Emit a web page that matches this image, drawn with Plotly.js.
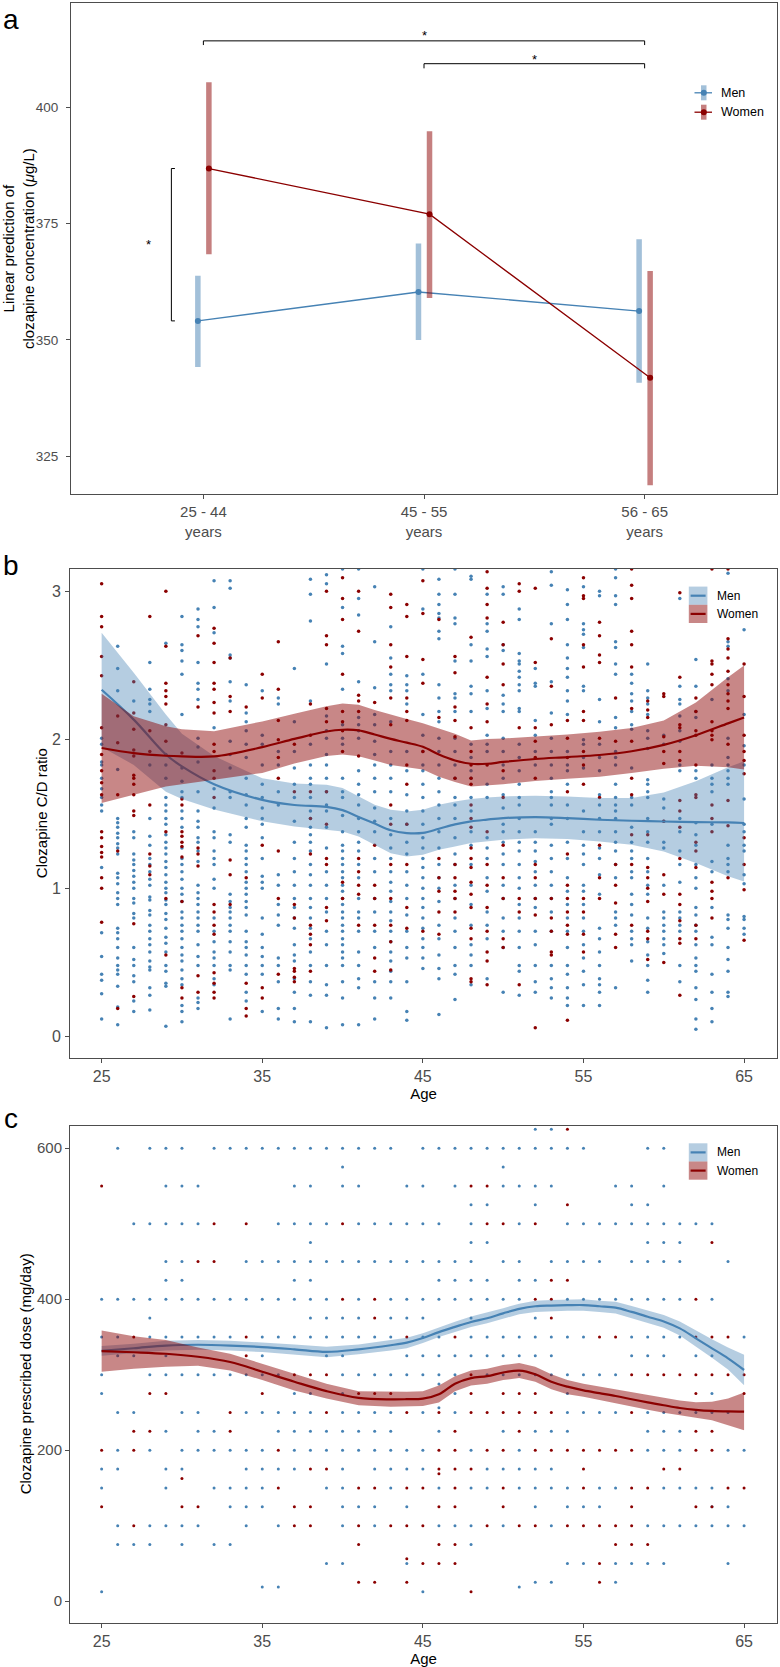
<!DOCTYPE html>
<html>
<head>
<meta charset="utf-8">
<script src="https://cdn.plot.ly/plotly-3.0.1.min.js"></script>
<style>html,body{margin:0;padding:0;background:#fff}#chart{width:780px;height:1667px}</style>
</head>
<body>
<div id="chart"></div>
<script>
// ---------------- Panel a : linear prediction ----------------
const ageGroups = ['25 - 44', '45 - 55', '56 - 65'];
const menPred = [354.1, 360.3, 356.2];
const menLo = [344.2, 350.0, 340.8];
const menHi = [363.8, 370.7, 371.6];
const womenPred = [386.8, 377.0, 341.9];
const womenLo = [368.4, 359.0, 318.8];
const womenHi = [405.3, 394.8, 364.8];

// ---------------- Panel b : C/D ratio ----------------
const cdAges = [25,26,27,28,29,30,31,32,33,34,35,36,37,38,39,40,41,42,43,44,45,46,47,48,49,50,51,52,53,54,55,56,57,58,59,60,61,62,63,64,65];
const cdMen = [
[2.01,1.97,1.85,1.83,1.74,1.67,1.61,1.56,1.52,1.14,0.70,0.54,0.42,0.38,0.29,0.12],
[2.63,2.48,2.33,1.80,1.47,1.44,1.41,1.37,1.34,1.30,1.27,1.23,1.10,1.07,1.03,0.97,0.93,0.89,0.73,0.70,0.66,0.60,0.53,0.48,0.45,0.42,0.34,0.20,0.08],
[2.26,1.38,1.34,1.23,1.19,1.16,1.12,1.08,1.04,1.00,0.93,0.90,0.83,0.80,0.60,0.52,0.48,0.41,0.37,0.24,0.17],
[2.52,2.34,2.27,2.24,2.19,1.83,1.47,1.35,1.29,1.20,1.16,1.11,1.06,1.02,0.94,0.92,0.85,0.82,0.75,0.71,0.66,0.62,0.57,0.51,0.47,0.45,0.33,0.28,0.18],
[2.65,1.90,1.83,1.74,1.61,1.56,1.52,1.47,1.43,1.36,1.31,1.27,1.23,1.18,1.14,1.09,1.04,1.00,0.97,0.92,0.89,0.83,0.79,0.73,0.67,0.63,0.57,0.48,0.44,0.36,0.34,0.07],
[2.83,2.64,2.60,2.53,2.44,2.17,1.81,1.72,1.65,1.61,1.52,1.47,1.41,1.27,1.20,1.16,1.11,1.06,1.00,0.96,0.91,0.84,0.80,0.75,0.71,0.66,0.60,0.55,0.51,0.45,0.39,0.35,0.21,0.17,0.10],
[2.88,2.81,2.76,2.52,2.38,2.34,2.27,2.01,1.95,1.85,1.65,1.52,1.45,1.41,1.34,1.31,1.25,1.18,1.02,0.97,0.93,0.89,0.84,0.80,0.75,0.71,0.62,0.54,0.48,0.26,0.23,0.19],
[3.07,2.89,2.72,2.08,1.67,1.54,1.38,1.34,1.25,1.20,1.16,1.06,1.00,0.80,0.71,0.64,0.57,0.53,0.48,0.39,0.35],
[3.07,3.02,2.57,2.55,2.39,2.26,1.99,1.90,1.81,1.65,1.61,1.36,1.31,0.96,0.91,0.87,0.84,0.80,0.75,0.71,0.64,0.57,0.48,0.45,0.12],
[2.37,2.18,2.12,2.06,1.97,1.88,1.74,1.63,1.56,1.47,1.41,1.29,1.25,1.20,1.16,1.11,1.04,1.00,0.96,0.91,0.87,0.82,0.71,0.64,0.60,0.55,0.48,0.42,0.30,0.24],
[2.33,2.03,1.97,1.83,1.70,1.61,1.54,1.47,1.43,1.34,1.20,1.08,1.04,1.00,0.80,0.69,0.60,0.54,0.48,0.42,0.17],
[2.28,2.24,1.92,1.83,1.65,1.56,1.09,1.02,0.89,0.82,0.75,0.53,0.48,0.37,0.19,0.12],
[2.48,2.12,1.92,1.81,1.70,1.61,1.45,1.31,1.20,1.11,1.02,0.93,0.87,0.80,0.73,0.62,0.55,0.51,0.39,0.30,0.19,0.10],
[3.08,2.98,2.80,2.26,1.97,1.83,1.74,1.70,1.61,1.52,1.47,1.41,1.36,1.31,1.25,1.16,1.09,1.02,0.93,0.87,0.80,0.73,0.66,0.57,0.48,0.37,0.28,0.10],
[3.11,3.05,2.51,2.16,2.06,2.01,1.90,1.83,1.74,1.65,1.56,1.52,1.41,1.27,1.11,1.02,0.93,0.84,0.71,0.62,0.48,0.35,0.28,0.06],
[3.15,2.89,2.63,2.58,2.34,2.10,2.01,1.97,1.74,1.65,1.61,1.49,1.38,1.29,1.25,1.20,1.16,1.11,1.07,1.02,0.98,0.93,0.89,0.84,0.80,0.75,0.71,0.66,0.62,0.57,0.53,0.48,0.37,0.26,0.08],
[3.15,2.95,2.84,2.39,2.15,2.10,2.06,2.01,1.79,1.70,1.63,1.56,1.47,1.38,1.31,1.25,1.16,1.07,0.93,0.84,0.80,0.71,0.57,0.48,0.39,0.33,0.08],
[3.03,2.66,2.35,2.17,2.10,1.99,1.90,1.83,1.74,1.65,1.54,1.45,1.38,1.20,1.11,0.93,0.84,0.71,0.60,0.37,0.26,0.12],
[2.76,2.55,2.44,2.37,2.33,2.12,1.92,1.83,1.74,1.65,1.47,1.36,1.27,1.20,1.11,1.04,0.98,0.91,0.84,0.78,0.71,0.64,0.57,0.51,0.44,0.37,0.26],
[2.43,2.37,2.33,2.24,1.92,1.79,1.63,1.52,1.43,1.31,1.23,1.11,1.02,0.93,0.82,0.71,0.60,0.53,0.37,0.17,0.11],
[3.15,2.88,2.44,2.17,2.03,1.92,1.83,1.79,1.70,1.61,1.52,1.43,1.34,1.27,1.20,1.14,1.07,1.00,0.93,0.87,0.80,0.73,0.66,0.60,0.53,0.46],
[3.08,2.98,2.91,2.85,2.82,2.73,2.68,2.37,2.28,2.19,2.12,2.01,1.92,1.83,1.74,1.65,1.56,1.47,1.38,1.27,1.16,1.07,1.00,0.91,0.75,0.66,0.55,0.46,0.39,0.15],
[3.15,2.98,2.82,2.78,2.53,2.31,2.28,2.19,2.01,1.92,1.83,1.74,1.61,1.56,1.47,1.34,1.23,1.16,1.02,0.93,0.80,0.71,0.60,0.48,0.42,0.25],
[3.10,3.08,2.64,2.53,2.36,2.31,2.19,1.97,1.88,1.79,1.74,1.61,1.52,1.38,1.29,1.16,1.02,0.89,0.75,0.62,0.55,0.48,0.35],
[2.98,2.78,2.73,2.61,2.56,2.33,2.21,2.03,1.97,1.92,1.70,1.61,1.34,1.27,1.20,1.07,0.98,0.84,0.75,0.66,0.39],
[3.03,2.98,2.64,2.60,2.30,2.24,2.19,2.01,1.92,1.83,1.74,1.63,1.54,1.43,1.38,1.31,1.23,1.16,1.02,0.93,0.80,0.71,0.60,0.30],
[2.88,2.81,2.58,2.53,2.51,2.46,2.42,2.37,2.33,2.21,2.19,1.97,1.88,1.79,1.70,1.61,1.56,1.47,1.38,1.31,1.25,1.16,1.07,1.00,0.89,0.80,0.71,0.60,0.48,0.44,0.28],
[2.48,2.38,2.36,2.13,2.03,1.92,1.83,1.38,1.31,1.25,1.18,1.11,1.02,0.93,0.87,0.71,0.62,0.48,0.37,0.30],
[3.13,3.04,2.78,2.39,2.18,2.01,1.92,1.83,1.74,1.65,1.61,1.56,1.47,1.43,1.29,1.20,1.11,1.02,0.93,0.84,0.71,0.48,0.39,0.33,0.26],
[3.01,2.91,2.81,2.64,2.55,2.48,2.42,2.33,2.26,2.17,1.92,1.83,1.79,1.70,1.56,1.47,1.31,1.20,1.07,0.98,0.89,0.80,0.71,0.60,0.48,0.42,0.33,0.26,0.21],
[3.03,2.78,2.74,2.71,2.62,2.36,2.33,2.00,1.97,1.88,1.81,1.52,1.38,1.29,1.23,1.16,1.02,0.98,0.89,0.80,0.71,0.62,0.53,0.44,0.35,0.21],
[3.00,2.97,2.27,2.12,1.97,1.88,1.79,1.63,1.56,1.47,1.38,1.27,1.20,1.09,0.96,0.73,0.66,0.57,0.48,0.39,0.35,0.30,0.21],
[3.15,3.09,2.97,2.91,2.66,2.62,2.51,2.44,2.15,2.08,1.92,1.88,1.83,1.70,1.61,1.56,1.52,1.47,1.38,1.31,1.25,1.16,1.07,0.84,0.80,0.75,0.33],
[2.44,2.38,2.31,2.26,2.19,2.10,2.07,1.81,1.61,1.56,1.41,1.31,1.25,1.20,1.11,1.07,0.96,0.89,0.82,0.71,0.66,0.62,0.51],
[2.51,2.33,2.28,2.24,2.17,2.06,2.01,1.94,1.73,1.70,1.65,1.61,1.47,1.38,1.31,1.20,1.11,1.02,0.96,0.80,0.73,0.64,0.55,0.48,0.38,0.30],
[2.03,1.97,1.60,1.54,1.45,1.31,1.27,1.02,0.84,0.80,0.75,0.71,0.66,0.62,0.56],
[2.95,2.36,2.27,2.24,2.16,2.06,1.99,1.83,1.79,1.47,1.38,1.25,1.16,1.04,0.84,0.80,0.75,0.71,0.48,0.37],
[2.54,2.36,2.19,2.15,1.79,1.74,1.44,1.36,1.29,1.16,1.07,1.00,0.87,0.82,0.75,0.71,0.62,0.53,0.48,0.44,0.33,0.25,0.12,0.05],
[2.27,1.83,1.74,1.70,1.65,1.43,1.18,1.11,0.87,0.67,0.62,0.42,0.30,0.19,0.10],
[3.12,2.66,2.63,2.41,2.33,2.01,1.88,1.83,1.79,1.74,1.70,1.29,1.20,1.16,1.11,0.82,0.79,0.73,0.60,0.52,0.44,0.30,0.27],
[2.74,2.17,1.96,1.83,1.60,1.43,1.38,1.29,1.25,1.09,1.03,0.81,0.79,0.73,0.69]
];
const cdWomen = [
[3.05,2.83,2.76,2.56,2.43,2.08,1.90,1.79,1.71,1.63,1.38,1.34,1.28,1.24,1.21,1.07,1.00,0.77],
[2.16,1.98,1.63,1.25,0.19],
[2.39,2.18,2.07,1.93,1.89,1.76,1.74,1.70,1.63,1.52,1.49,0.76,0.27],
[2.83,2.06,1.92,1.56,1.23,1.15,1.09],
[3.00,2.63,2.38,2.33,2.29,2.24,2.10,1.99,1.38,0.93,0.55],
[1.91,1.60,1.56,1.38,1.35,1.31,1.28,1.21,0.91,0.33,0.26],
[2.70,2.22,1.27,1.23,1.15,0.41,0.30],
[2.75,2.65,2.52,2.38,2.34,2.25,2.18,1.97,1.92,1.79,1.74,1.61,0.89,0.84,0.75,0.69,0.43,0.36,0.30,0.26],
[2.55,2.29,2.19,1.19,1.09,0.89],
[2.22,1.07,0.36,0.19,0.14],
[2.44,2.28,1.29,0.33,0.26],
[2.66,2.34,2.13,2.00,1.88,1.74,1.25,0.93,0.42],
[1.97,1.65,0.89,0.80,0.46,0.44,0.40,0.37],
[2.24,2.03,1.65,1.47,1.23,0.75,0.69,0.62,0.44],
[3.00,2.70,2.64,2.21,2.12,1.65,1.43,1.20,1.16,0.87,0.78],
[3.09,2.95,2.81,2.44,2.19,2.12,2.06,1.92,1.04,0.93],
[3.00,2.73,2.30,2.26,2.19,1.89,1.20,1.11,1.02,0.96,0.75],
[2.25,1.29,1.02,0.93,0.75,0.53,0.44],
[2.98,2.89,2.64,2.49,2.28,2.10,1.56,1.43,1.16,0.93,0.75,0.64,0.45],
[2.91,2.83,2.56,2.28,2.19,2.13,1.83,1.70,1.43,1.16,0.87,0.73],
[3.07,2.85,2.54,2.38,1.92,0.71],
[2.81,2.15,1.20,1.07,0.98,0.84,0.69],
[2.56,2.45,2.22,2.13,2.02,1.74,1.16,1.07,0.98,0.93,0.84],
[2.69,2.08,1.92,1.83,1.74,1.70,1.56,1.47,1.41,1.27,1.20,1.14,1.04,0.96,0.87,0.73,0.66,0.39,0.37],
[3.13,3.02,2.91,2.82,2.42,2.24,2.12,1.83,1.38,1.16,1.02,0.87,0.71,0.57,0.51,0.35],
[2.79,2.64,2.51,2.37,1.79,1.61,1.29,1.07,0.93,0.66,0.60],
[3.05,3.00,2.08,0.93,0.84,0.35],
[3.02,2.52,2.08,1.99,1.88,1.74,1.16,1.07,0.93,0.82,0.06],
[2.68,2.36,2.10,0.93,0.80,0.71,0.57,0.55],
[2.13,2.01,1.88,1.65,1.23,1.02,0.93,0.84,0.75,0.69,0.11],
[3.09,2.97,2.95,2.64,2.49,2.19,2.13,1.92,1.83,1.70,0.93,0.84,0.69,0.57],
[2.79,2.70,2.57,2.52,2.01,1.61,1.29,1.07,0.93],
[2.28,1.99,1.16,1.02,0.90,0.69,0.60],
[3.15,3.04,2.95,2.73,2.64,2.49,2.21,1.99,1.74,1.63,1.36,1.16,0.75],
[2.26,2.20,2.15,1.36,1.14,1.07,1.00,0.91,0.71,0.66,0.52],
[2.31,2.29,2.02,1.92,1.84,1.45,1.09,0.96,0.50],
[2.99,2.42,2.10,2.08,1.92,1.86,1.59,1.52,1.41,1.20,0.96,0.89,0.78,0.66,0.63,0.28],
[2.28,2.19,2.06,2.03,1.83,1.63,1.61,1.31,1.25,1.14,0.75,0.66],
[3.15,2.53,2.51,2.44,2.37,2.12,2.06,2.03,2.00,1.56,1.47,1.38,1.04,0.98,0.93,0.80],
[3.15,2.68,2.61,2.55,2.46,2.37,2.31,2.26,2.21,1.97,1.59,1.42,1.07],
[2.51,2.29,2.03,1.92,1.86,1.77,1.34,1.16,0.99,0.65]
];
// smoothed C/D ratio (loess) with 95% band
const cdFitAge = [25,27,29,30,32,35,37,39,40,41,42,43,44,45,46,47,48,49,50,52,54,56,58,60,62,64,65];
const cdMenFit = [2.336,2.135,1.90,1.82,1.70,1.595,1.56,1.548,1.526,1.48,1.435,1.39,1.371,1.372,1.40,1.43,1.45,1.462,1.472,1.479,1.472,1.461,1.454,1.449,1.445,1.443,1.439];
const cdMenUp = [2.72,2.45,2.17,2.04,1.89,1.74,1.705,1.697,1.675,1.618,1.562,1.528,1.517,1.528,1.562,1.584,1.60,1.61,1.618,1.623,1.618,1.607,1.607,1.645,1.72,1.815,1.854];
const cdMenLow = [1.95,1.83,1.65,1.60,1.53,1.45,1.416,1.393,1.382,1.348,1.292,1.236,1.214,1.225,1.259,1.281,1.304,1.315,1.326,1.337,1.331,1.315,1.292,1.247,1.17,1.08,1.045];
const cdWomenFit = [1.944,1.91,1.892,1.888,1.888,1.95,2.005,2.055,2.067,2.063,2.035,2.005,1.98,1.952,1.90,1.86,1.838,1.838,1.85,1.87,1.883,1.897,1.922,1.965,2.03,2.11,2.15];
const cdWomenUp = [2.31,2.157,2.09,2.07,2.056,2.123,2.175,2.225,2.243,2.236,2.20,2.168,2.14,2.11,2.075,2.04,1.995,2.005,2.008,2.02,2.035,2.053,2.078,2.13,2.25,2.42,2.50];
const cdWomenLow = [1.573,1.63,1.685,1.70,1.73,1.776,1.84,1.89,1.90,1.888,1.86,1.83,1.815,1.80,1.75,1.715,1.685,1.69,1.70,1.722,1.737,1.75,1.775,1.805,1.825,1.815,1.80];

// ---------------- Panel c : prescribed dose ----------------
const doseLevels = [625,600,575,550,525,500,475,450,425,400,375,350,325,300,287.5,275,256.25,250,225,200,175,168.75,162.5,150,125,100,75,56.25,50,25,18.75,12.5];
const doseMenAges = [
[52,53],
[26,28,29,30,32,33,34,35,36,37,38,39,40,41,42,43,45,46,47,48,49,50,51,52,53,54,55,59,60],
[40,50],
[29,30,31,37,38,40,41,44,45,47,50,51,52,53,57,58,60],
[48,49,52,58,59],
[27,28,29,30,31,36,37,38,39,41,42,43,44,45,46,48,51,54,55,56,57,58,59,60,61,62,63],
[38,48,49,59,60,61],
[29,30,34,35,36,37,38,39,40,41,42,43,44,45,46,47,48,50,51,53,54,55,56,58,59,60,61,64],
[29,30,37,38,46,47,48,49,51,52],
[25,26,27,28,29,30,31,32,33,34,35,36,37,38,39,41,43,44,45,46,47,48,49,50,51,54,55,56,57,58,59,60,61,63],
[28,38,39,40,41,43,44,45,48,52],
[25,26,28,29,30,31,32,33,35,36,37,38,39,40,41,42,43,45,46,48,49,50,51,52,53,54,55,58,59,60,61,65],
[26,27,29,35,39,40,44,45,46,47,48,49,50,51,52,53,58,59,60,62,63],
[25,28,29,30,31,32,33,34,35,36,40,41,42,43,44,45,46,47,49,50,51,52,53,54,55,56,57],
[46],
[25,37,38,40,47,54,63],
[46],
[26,27,30,31,34,35,36,37,38,40,41,42,43,45,47,54,55,56,57,59,60,61,62,63,64],
[29,31,32,36,37,38,39,40,41,42,43,46,50,52,53,54,59,60,61],
[26,28,30,31,32,33,34,35,37,38,39,40,41,42,43,44,45,48,51,59,60,61,64,65],
[25,26,29,30,34,35,36,37,40,42,43,44,45,49,50,51,52,53],
[],
[],
[25,29,32,33,34,35,39,40,43,46,48,49,51,52,53,54,56,57,60,61,62,63],
[33,34,35,40,41,42,44,52,54,55,56,63,64],
[26,28,29,30,31,34,36,40,42,46,47,48,50,53,59,60,61,62,63,64,65],
[26,27,28,30,32,33,48],
[],
[39,40,44,54,55,57,58,59,60,64],
[52,53,57],
[35,36,51],
[25,45]
];
const doseWomenAges = [
[54],
[],
[],
[25,48,49],
[54],
[32,34,40,49,50,52],
[63],
[31,32],
[53,54],
[40,42,52,53,62],
[42,53],
[27,34,44,47,56,57,62,63,64],
[34],
[37,38,39,48,58,59,60,61,62,63,64,65],
[],
[28,29,35,41,42,43,48,50,51,52,62,65],
[],
[33,39,44,46,48,49,50,51,52,53,58],
[27,28,33,47,51,62,63],
[25,27,36,46,47,49,50,52,53,54,55,56,57,58,62,63],
[38,39,46,47,48,55,60,61],
[46],
[30],
[36,41,42,44,45,47,50,55,58,59,64,65],
[25,30,31,37,38,46,47,50,58,62,63],
[27,37,38,41,43,44,45,49,51,52,54,55,56,57,58],
[41,46,47,57,58,59],
[44],
[45,46,47,56],
[41,42,44,56],
[],
[48]
];
const doseFitAge = [25,27,29,31,33,35,37,39,41,43,44,45,46,47,48,49,50,51,52,53,54,55,56,57,58,59,60,61,62,63,64,65];
const doseMenFit = [331.7,335,338.6,339.6,338.6,336.6,333.6,330.2,333.6,339,342.5,348.5,356.4,363.3,369.8,374.7,381.2,387.1,390.6,391.5,392,392.2,390.6,388.7,383.1,376.8,370.5,361.3,348.1,334.9,321.6,306.2];
const doseMenUp = [338,341,345,346,345,343,340,337,340,346,349,355,363,370,377,382,388,394,398,399,399.5,400,398,396.5,391,385,379,370.5,358.5,347,336,326.5];
const doseMenLow = [325,329,332,333,332,330,327,323,327,332,335,342,350,357,363,368,374,380,383,384,384.5,384.5,383,381,375,368.5,362,352,337.5,322.5,307,286];
const doseWomenFit = [331.2,329.7,327.7,323.7,316.8,303.9,290.6,278.2,269.3,267.3,267.5,268.3,274.2,288.1,295.5,298,302.9,305.4,300.5,290.6,284.1,279.2,275.5,271.8,267.5,263.3,259.5,255.9,253.5,252,251.3,251];
const doseWomenUp = [358.4,351,346,336,327.7,314.3,300.5,288.1,278.2,277.2,277.5,278.2,285.6,298,305.4,307.9,312.8,315.3,310.4,300.5,293,288.1,284.5,280.7,277,273.2,269.5,265.8,263.5,264,268.5,276.5];
const doseWomenLow = [303.9,308,310.4,311.9,305.4,293,279.2,268.3,259.4,257.4,257.6,258.4,263.3,278.2,285.6,288.1,293,295.5,290.6,280.7,274.2,270.8,266.5,262.4,258,253.4,249.5,246,243,239.6,233,226.5];

// ---------------- styling ----------------
const W = 780, H = 1667;
const px = v => v / W;
const py = v => 1 - v / H;
const BLUE = '#4682B4', RED = '#8B0000';
const BLUE_BAR = 'rgba(70,130,180,0.5)', RED_BAR = 'rgba(139,0,0,0.5)';
const BLUE_BAND = 'rgba(70,130,180,0.4)', RED_BAND = 'rgba(139,0,0,0.47)';
const FONT = 'Liberation Sans, Arial, Helvetica, sans-serif';
const DODGE = 0.025;

function flatten(ages, lists) {
  const x = [], y = [];
  lists.forEach((vals, i) => vals.forEach(v => { x.push(ages[i]); y.push(v); }));
  return {x, y};
}
function flattenRows(levels, rows) {
  const x = [], y = [];
  rows.forEach((ages, i) => ages.forEach(a => { x.push(a); y.push(levels[i]); }));
  return {x, y};
}
function band(ages, up, low, color, xa, ya) {
  return {x: ages.concat(ages.slice().reverse()), y: up.concat(low.slice().reverse()),
    type: 'scatter', mode: 'lines', fill: 'toself', fillcolor: color,
    line: {width: 0, color: 'rgba(0,0,0,0)'}, hoverinfo: 'skip', showlegend: false, xaxis: xa, yaxis: ya};
}

const cats = ageGroups.map((g, i) => i + 1);
const traces = [];
// panel a
traces.push({x: cats.map(c => c - DODGE), y: menPred, type: 'scatter', mode: 'lines+markers', name: 'Men',
  line: {color: BLUE, width: 1.3}, marker: {color: BLUE, size: 6},
  error_y: {type: 'data', symmetric: false, array: menHi.map((h, i) => h - menPred[i]),
    arrayminus: menLo.map((l, i) => menPred[i] - l), thickness: 5.5, width: 0, color: BLUE_BAR},
  xaxis: 'x', yaxis: 'y', showlegend: false});
traces.push({x: cats.map(c => c + DODGE), y: womenPred, type: 'scatter', mode: 'lines+markers', name: 'Women',
  line: {color: RED, width: 1.3}, marker: {color: RED, size: 6},
  error_y: {type: 'data', symmetric: false, array: womenHi.map((h, i) => h - womenPred[i]),
    arrayminus: womenLo.map((l, i) => womenPred[i] - l), thickness: 5.5, width: 0, color: RED_BAR},
  xaxis: 'x', yaxis: 'y', showlegend: false});

// panel b
const bm = flatten(cdAges, cdMen), bw = flatten(cdAges, cdWomen);
traces.push({x: bm.x, y: bm.y, type: 'scatter', mode: 'markers', marker: {color: BLUE, size: 3.5}, xaxis: 'x2', yaxis: 'y2', showlegend: false, hoverinfo: 'skip'});
traces.push({x: bw.x, y: bw.y, type: 'scatter', mode: 'markers', marker: {color: RED, size: 3.5}, xaxis: 'x2', yaxis: 'y2', showlegend: false, hoverinfo: 'skip'});
traces.push(band(cdFitAge, cdMenUp, cdMenLow, BLUE_BAND, 'x2', 'y2'));
traces.push({x: cdFitAge, y: cdMenFit, type: 'scatter', mode: 'lines', line: {color: BLUE, width: 2.2, shape: 'spline'}, xaxis: 'x2', yaxis: 'y2', showlegend: false});
traces.push(band(cdFitAge, cdWomenUp, cdWomenLow, RED_BAND, 'x2', 'y2'));
traces.push({x: cdFitAge, y: cdWomenFit, type: 'scatter', mode: 'lines', line: {color: RED, width: 2.2, shape: 'spline'}, xaxis: 'x2', yaxis: 'y2', showlegend: false});

// panel c
const cm = flattenRows(doseLevels, doseMenAges), cw = flattenRows(doseLevels, doseWomenAges);
traces.push({x: cm.x, y: cm.y, type: 'scatter', mode: 'markers', marker: {color: BLUE, size: 3}, xaxis: 'x3', yaxis: 'y3', showlegend: false, hoverinfo: 'skip'});
traces.push({x: cw.x, y: cw.y, type: 'scatter', mode: 'markers', marker: {color: RED, size: 3}, xaxis: 'x3', yaxis: 'y3', showlegend: false, hoverinfo: 'skip'});
traces.push(band(doseFitAge, doseMenUp, doseMenLow, BLUE_BAND, 'x3', 'y3'));
traces.push({x: doseFitAge, y: doseMenFit, type: 'scatter', mode: 'lines', line: {color: BLUE, width: 2.2, shape: 'spline'}, xaxis: 'x3', yaxis: 'y3', showlegend: false});
traces.push(band(doseFitAge, doseWomenUp, doseWomenLow, RED_BAND, 'x3', 'y3'));
traces.push({x: doseFitAge, y: doseWomenFit, type: 'scatter', mode: 'lines', line: {color: RED, width: 2.2, shape: 'spline'}, xaxis: 'x3', yaxis: 'y3', showlegend: false});

const axisBase = {showline: true, mirror: true, linecolor: '#4d4d4d', linewidth: 1, ticks: 'outside', ticklen: 4,
  tickcolor: '#4d4d4d', showgrid: false, zeroline: false, tickfont: {family: FONT, size: 15, color: '#4d4d4d'}, fixedrange: true};
const xDomA = [px(71), px(777)];
const xDom = [px(70), px(777)];
const titleFont = {family: FONT, size: 15, color: '#000'};

const layout = {
  width: W, height: H, margin: {l: 0, r: 0, t: 0, b: 0}, paper_bgcolor: '#fff', plot_bgcolor: '#fff',
  font: {family: FONT, color: '#000'}, showlegend: false,
  xaxis: Object.assign({}, axisBase, {domain: xDomA, anchor: 'y', range: [0.4, 3.6], tickmode: 'array', tickvals: cats,
    ticktext: ageGroups.map(g => g + '<br>years')}),
  yaxis: Object.assign({}, axisBase, {domain: [py(494.2), py(2.65)], anchor: 'x', range: [316.9, 422.4], tickvals: [325, 350, 375, 400],
    tickfont: {family: FONT, size: 13.5, color: '#4d4d4d'}, ticklabelstandoff: 5}),
  xaxis2: Object.assign({}, axisBase, {domain: xDom, anchor: 'y2', range: [23.03, 67.05], tickvals: [25, 35, 45, 55, 65],
    tickfont: {family: FONT, size: 16, color: '#4d4d4d'},
    title: {text: 'Age', font: titleFont, standoff: 2}}),
  yaxis2: Object.assign({}, axisBase, {domain: [py(1057.5), py(568.9)], anchor: 'x2', range: [-0.14, 3.15], tickvals: [0, 1, 2, 3],
    tickfont: {family: FONT, size: 16, color: '#4d4d4d'}, ticklabelstandoff: 1}),
  xaxis3: Object.assign({}, axisBase, {domain: xDom, anchor: 'y3', range: [23.03, 67.05], tickvals: [25, 35, 45, 55, 65],
    tickfont: {family: FONT, size: 16, color: '#4d4d4d'},
    title: {text: 'Age', font: titleFont, standoff: 2}}),
  yaxis3: Object.assign({}, axisBase, {domain: [py(1622.9), py(1125.7)], anchor: 'x3', range: [-28.7, 629.7], tickvals: [0, 200, 400, 600],
    tickfont: {family: FONT, size: 15, color: '#4d4d4d'}, ticklabelstandoff: 4.5}),
  shapes: [],
  annotations: []
};

// y-axis titles (placed precisely as rotated text)
[['Linear prediction of<br>clozapine concentration (<i>μ</i>g/L)', 18.5, 248.5],
 ['Clozapine C/D ratio', 41, 813.2],
 ['Clozapine prescribed dose (mg/day)', 25, 1374.3]].forEach(([t, x, y]) => layout.annotations.push({
  xref: 'paper', yref: 'paper', x: px(x), y: py(y), text: t, textangle: -90, showarrow: false,
  xanchor: 'center', yanchor: 'middle', font: titleFont}));

// significance brackets (panel a)
const br = {type: 'path', xref: 'x', yref: 'y', line: {color: '#000', width: 1}};
layout.shapes.push(Object.assign({}, br, {path: 'M 1,413.3 L 1,414.2 L 3,414.2 L 3,413.3'}));
layout.shapes.push(Object.assign({}, br, {path: 'M 2,408.3 L 2,409.3 L 3,409.3 L 3,408.3'}));
layout.shapes.push(Object.assign({}, br, {path: `M 0.871,${womenPred[0]} L 0.855,${womenPred[0]} L 0.855,${menPred[0]} L 0.871,${menPred[0]}`}));
const star = {xref: 'x', yref: 'y', text: '*', showarrow: false, font: {family: FONT, size: 13, color: '#000'}, yshift: -3};
layout.annotations.push(Object.assign({}, star, {x: 2, y: 416.0}));
layout.annotations.push(Object.assign({}, star, {x: 2.5, y: 410.8}));
layout.annotations.push(Object.assign({}, star, {x: 0.753, y: 371.1}));

// panel labels
[['a', 19.5], ['b', 565], ['c', 1118]].forEach(([t, y]) => layout.annotations.push({
  xref: 'paper', yref: 'paper', x: px(11), y: py(y), text: t, showarrow: false, xanchor: 'center', yanchor: 'middle',
  font: {family: FONT, size: 28, color: '#000'}}));

// legend for panel a
[[BLUE, BLUE_BAR, 'Men', 92.8], [RED, RED_BAR, 'Women', 112.2]].forEach(([c, cb, t, yc]) => {
  layout.shapes.push({type: 'rect', xref: 'paper', yref: 'paper', x0: px(701), x1: px(706.5), y0: py(yc - 7.5), y1: py(yc + 7.5), fillcolor: cb, line: {width: 0}});
  layout.shapes.push({type: 'line', xref: 'paper', yref: 'paper', x0: px(694.5), x1: px(712), y0: py(yc), y1: py(yc), line: {color: c, width: 1.3}});
  layout.shapes.push({type: 'circle', xref: 'paper', yref: 'paper', x0: px(700.8), x1: px(706.8), y0: py(yc - 3), y1: py(yc + 3), fillcolor: c, line: {width: 0}});
  layout.annotations.push({xref: 'paper', yref: 'paper', x: px(718.5), y: py(yc), text: t, showarrow: false, xanchor: 'left', yanchor: 'middle',
    font: {family: FONT, size: 12.5, color: '#000'}});
});
// legends for panels b and c
function bandLegend(top) {
  [[BLUE, BLUE_BAND, 'Men', top], [RED, RED_BAND, 'Women', top + 18.2]].forEach(([c, cb, t, y0]) => {
    layout.shapes.push({type: 'rect', xref: 'paper', yref: 'paper', x0: px(688.8), x1: px(707.4), y0: py(y0 + 18.2), y1: py(y0), fillcolor: cb, line: {width: 0}});
    layout.shapes.push({type: 'line', xref: 'paper', yref: 'paper', x0: px(690.6), x1: px(705.6), y0: py(y0 + 9.1), y1: py(y0 + 9.1), line: {color: c, width: 2.2}});
    layout.annotations.push({xref: 'paper', yref: 'paper', x: px(714.5), y: py(y0 + 9.1), text: t, showarrow: false, xanchor: 'left', yanchor: 'middle',
      font: {family: FONT, size: 12, color: '#000'}});
  });
}
bandLegend(586.6);
bandLegend(1143.3);

Plotly.newPlot('chart', traces, layout, {staticPlot: true, displayModeBar: false});
</script>
</body>
</html>
